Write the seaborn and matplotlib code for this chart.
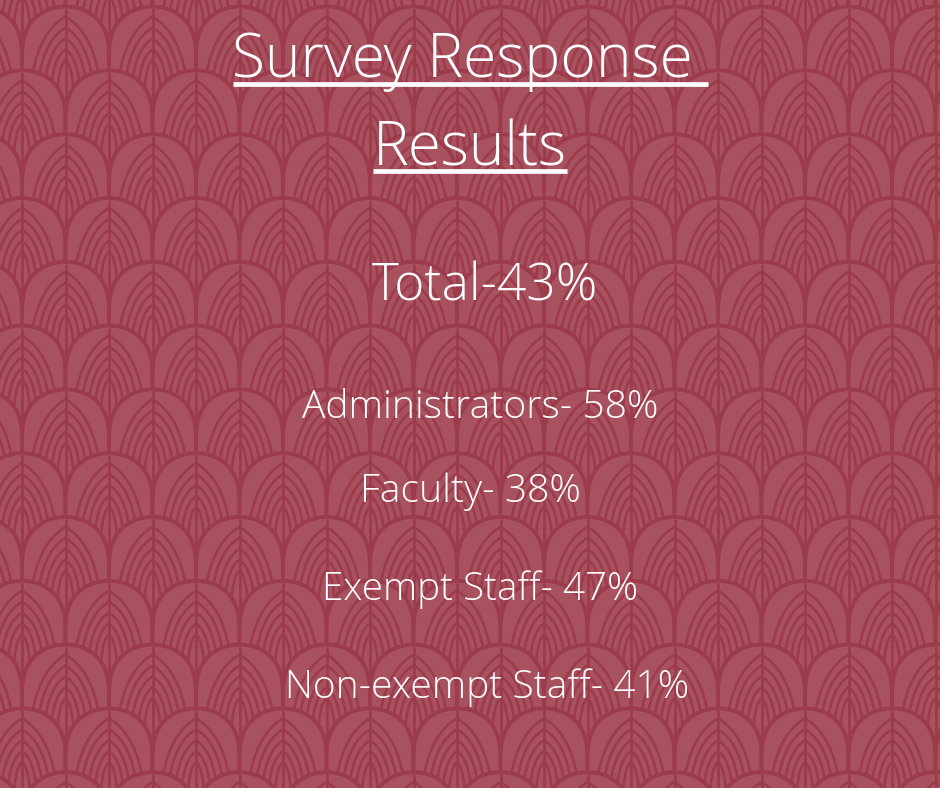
import numpy as np
import matplotlib
matplotlib.use("Agg")
import matplotlib.pyplot as plt
import seaborn as sns
from matplotlib.patches import Polygon

# survey numbers
total_rate = 43
groups = ["Administrators", "Faculty", "Exempt Staff", "Non-exempt Staff"]
group_rates = [58, 38, 47, 41]
title_lines = ["Survey Response ", "Results"]

bg = "#a9525f"
line_c = "#9c3b4b"

sns.set_theme(style="white")
plt.rcParams['font.family'] = ['Open Sans', 'DejaVu Sans']

fig = plt.figure(figsize=(9.4, 7.88), dpi=100)
fig.patch.set_facecolor(bg)
ax = fig.add_axes([0, 0, 1, 1])
ax.set_xlim(0, 940)
ax.set_ylim(788, 0)
ax.axis('off')
ax.set_facecolor(bg)

# background arch pattern
P, V, a, H = 87.0, 63.8, 43.5, 54.0
th = np.linspace(-np.pi / 2, np.pi / 2, 60)
u = np.linspace(0, 1, 30)[:, None]
for r in range(-1, 14):
    ty = 6.6 + V * r
    x0 = 22 if r % 2 == 1 else 65.5
    for m in range(-2, 13):
        cx = x0 + P * m
        bot = ty + V + 40
        xs = np.concatenate([[cx - a], cx + a * np.sin(th), [cx + a]])
        ys = np.concatenate([[bot], ty + H * (1 - np.cos(th) ** 0.7), [bot]])
        poly = Polygon(np.column_stack([xs, ys]), closed=False, facecolor=bg,
                       edgecolor=line_c, lw=2.8, zorder=r)
        ax.add_patch(poly)
        ax.plot([cx, cx], [ty + 2, bot], color=line_c, lw=2.0, zorder=r + 0.5,
                clip_path=poly, solid_capstyle='butt')
        # fronds fanning out from the stem
        for k in range(5):
            y0 = ty + 10 + 11 * k
            e = a * (0.84 - 0.16 * k)
            for sgn in (-1, 1):
                p0 = np.array([cx, y0])
                p1 = np.array([cx + sgn * e * 0.95, y0 + e * 0.55])
                p2 = np.array([cx + sgn * e, bot])
                pts = (1 - u) ** 2 * p0 + 2 * (1 - u) * u * p1 + u ** 2 * p2
                ax.plot(pts[:, 0], pts[:, 1], color=line_c, lw=1.9,
                        zorder=r + 0.5, clip_path=poly)

renderer = fig.canvas.get_renderer()


def fit_text(label, cx, base, width, z=50):
    t = ax.text(cx, base, label, ha='center', va='baseline', color='white',
                fontsize=30, fontweight='light', zorder=z)
    ext = t.get_window_extent(renderer)
    t.set_fontsize(30 * width / ext.width)
    return t


labels = [title_lines[0], title_lines[1], f"Total-{total_rate}%"]
labels += [f"{g}- {v}%" for g, v in zip(groups, group_rates)]
# (center x, baseline y, width in px)
spots = [(470, 77, 476), (470, 165, 194), (485, 300, 226),
         (480, 418, 356), (470, 502, 221), (480, 600, 317), (487, 698, 404)]
for lab, (cx, base, w) in zip(labels, spots):
    fit_text(lab, cx, base, w)

# title underlines
ax.plot([233, 708], [83.5, 83.5], color='white', lw=3.4, zorder=51, solid_capstyle='butt')
ax.plot([373, 567], [171, 171], color='white', lw=3.4, zorder=51, solid_capstyle='butt')

fig.savefig("out.png", dpi=100, facecolor=bg)
